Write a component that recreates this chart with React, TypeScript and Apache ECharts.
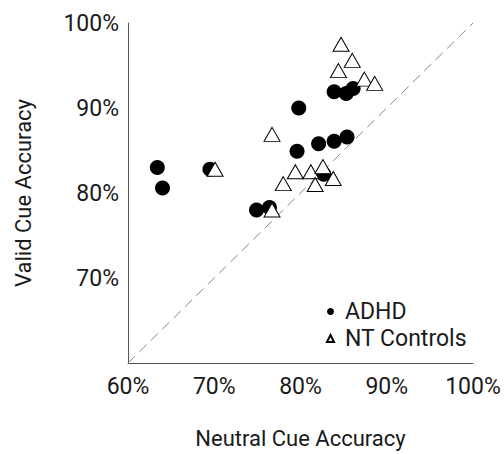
import React, { useEffect, useRef } from "react";
import * as echarts from "echarts";

const xTicks = [60, 70, 80, 90, 100];
const yTicks = [60, 70, 80, 90, 100];

const adhdNeutral = [63.4, 64.0, 69.5, 74.9, 76.4, 79.8, 79.6, 82.1, 82.7, 83.9, 85.4, 83.9, 85.3, 86.1];
const adhdValid = [83.0, 80.6, 82.8, 78.0, 78.3, 90.0, 84.9, 85.8, 82.2, 86.1, 86.6, 91.9, 91.7, 92.3];

const ntNeutral = [84.7, 86.0, 84.4, 87.4, 88.6, 76.7, 70.1, 79.4, 81.2, 82.6, 83.8, 81.7, 78.0, 76.7];
const ntValid = [97.5, 95.6, 94.4, 93.4, 92.9, 86.9, 82.8, 82.5, 82.5, 83.1, 81.7, 81.0, 81.1, 78.0];

const diagonal = [[60, 60], [100, 100]];

const FONT = "Roboto, 'Liberation Sans Narrow', sans-serif";
const TEXT = "#1a1a1a";

export default function App() {
  const ref = useRef<HTMLDivElement>(null);
  useEffect(() => {
    document.body.style.margin = "0";
    const chart = echarts.init(ref.current!, undefined, { renderer: "svg" });
    chart.setOption({
      animation: false,
      backgroundColor: "#ffffff",
      textStyle: { fontFamily: FONT },
      grid: { left: 128, top: 23, width: 345, height: 345 },
      legend: {
        orient: "vertical",
        left: 321,
        top: 295,
        itemWidth: 7,
        itemHeight: 7,
        itemGap: 4,
        data: [
          { name: "ADHD", icon: "circle" },
          { name: "NT Controls", icon: "triangle" },
        ],
        textStyle: { fontFamily: FONT, fontSize: 23, lineHeight: 23, color: TEXT, padding: [0, 0, 0, 6] },
      },
      xAxis: {
        type: "value",
        min: xTicks[0],
        max: xTicks[xTicks.length - 1],
        interval: 10,
        name: "Neutral Cue Accuracy",
        nameLocation: "middle",
        nameGap: 64,
        nameTextStyle: { fontFamily: FONT, fontSize: 22, color: TEXT },
        axisLine: { show: true, lineStyle: { color: "#555", width: 1 } },
        axisTick: { show: false },
        splitLine: { show: false },
        axisLabel: { formatter: "{value}%", fontFamily: FONT, fontSize: 23, color: TEXT, margin: 12 },
      },
      yAxis: {
        type: "value",
        min: yTicks[0],
        max: yTicks[yTicks.length - 1],
        interval: 10,
        name: "Valid Cue Accuracy",
        nameLocation: "middle",
        nameGap: 94,
        nameRotate: 90,
        nameTextStyle: { fontFamily: FONT, fontSize: 22, color: TEXT },
        axisLine: { show: true, lineStyle: { color: "#555", width: 1 } },
        axisTick: { show: false },
        splitLine: { show: false },
        axisLabel: {
          formatter: (v: number) => (v === 60 ? "" : v + "%"),
          fontFamily: FONT,
          fontSize: 23,
          color: TEXT,
          margin: 9,
        },
      },
      series: [
        {
          type: "line",
          data: diagonal,
          symbol: "none",
          silent: true,
          lineStyle: { color: "#888", width: 1, type: [10, 6] },
          z: 1,
        },
        {
          name: "ADHD",
          type: "scatter",
          symbol: "circle",
          symbolSize: 15,
          data: adhdNeutral.map((x, i) => [x, adhdValid[i]]),
          itemStyle: { color: "#000", opacity: 1 },
          z: 2,
        },
        {
          name: "NT Controls",
          type: "scatter",
          symbol: "triangle",
          symbolSize: [16, 14],
          data: ntNeutral.map((x, i) => [x, ntValid[i]]),
          itemStyle: { color: "#fff", borderColor: "#000", borderWidth: 1, opacity: 1 },
          z: 3,
        },
      ],
    });
    return () => chart.dispose();
  }, []);
  return <div ref={ref} style={{ width: 504, height: 454 }} />;
}
